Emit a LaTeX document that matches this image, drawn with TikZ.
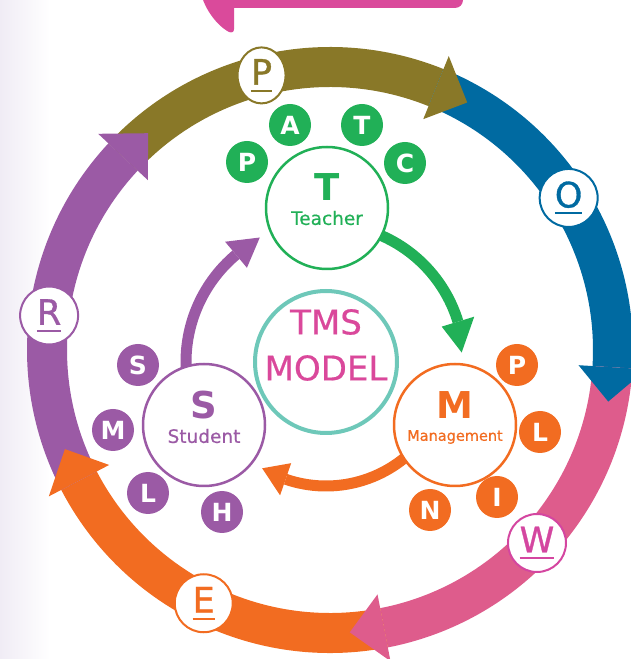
\documentclass[tikz,border=0pt]{standalone}
\usepackage{fontspec}
\setmainfont{DejaVu Sans}
\newfontfamily\medfont{DejaVu Sans}[FakeBold=0.9]
\newfontfamily\semfont{DejaVu Sans}[FakeBold=0.5]
\usetikzlibrary{calc,shapes.geometric}
\definecolor{colP}{RGB}{137,120,40}
\definecolor{colO}{RGB}{0,106,161}
\definecolor{colW}{RGB}{222,92,140}
\definecolor{colWt}{RGB}{212,70,160}
\definecolor{colE}{RGB}{242,108,33}
\definecolor{colR}{RGB}{155,90,165}
\definecolor{colG}{RGB}{33,176,87}
\definecolor{colT}{RGB}{110,200,185}
\definecolor{colTxt}{RGB}{218,72,155}
\definecolor{colBar}{RGB}{218,74,155}
\definecolor{colBg}{RGB}{240,236,245}
\newcommand\ulet[1]{\setbox0=\hbox{#1}\hbox{\rlap{\copy0}\rule[-7pt]{\wd0}{2pt}}}
\newcommand\ringband[3]{\fill[#1] ($(C)+(#2:303)$) arc[start angle=#2,end angle=#3,radius=303] -- ($(C)+(#3:263)$) arc[start angle=#3,end angle=#2,radius=263] -- cycle;}
\newcommand\ringhead[3]{\fill[#1] ($(C)+(#2:317)$) -- ($(C)+(#3:283)$) -- ($(C)+(#2:249)$) -- cycle;}
\begin{document}
\begin{tikzpicture}[x=1pt,y=1pt,
  ringlab/.style={circle, fill=white, draw=#1, line width=2pt, minimum size=58pt, inner sep=0pt, text=#1, font=\medfont\fontsize{35}{35}\selectfont},
  minidot/.style={circle, fill=#1, minimum size=42pt, inner sep=0pt, text=white, font=\bfseries\fontsize{25}{25}\selectfont},
  bigc/.style={circle, fill=white, draw=#1, line width=2.5pt, minimum size=122pt, inner sep=0pt},
  bigl/.style={text=#1, inner sep=0pt, font=\bfseries\fontsize{37}{37}\selectfont},
  bigw/.style={text=#1, inner sep=0pt, font=\semfont\fontsize{18.5}{18.5}\selectfont},
  inarrow/.style={draw=#1, line width=11pt}
]
\useasboundingbox (0,0) rectangle (630,659);
\shade[left color=colBg, right color=white] (0,0) rectangle (50,659);
% top pink bar
\fill[colBar] (200,670) .. controls (203,652) and (216,634) .. (229,627) .. controls (232,626) and (234,627) .. (234,630) -- (234,651) -- (455,651) arc[start angle=-90,end angle=0,radius=8] -- (463,670) -- cycle;
% ring
\coordinate (C) at (330,309);
\ringband{colP}{137}{68}
\ringband{colO}{68}{-3.5}
\ringband{colW}{-3.5}{-79}
\ringband{colE}{-79}{-152.5}
\ringband{colR}{-152.5}{-223}
\ringhead{colP}{68}{61}
\ringhead{colO}{-3.5}{-10.5}
\ringhead{colW}{-79}{-86}
\ringhead{colE}{-152.5}{-159.5}
\ringhead{colR}{-223}{-230}
\node[ringlab=colP, ellipse, minimum width=48pt, minimum height=56pt] (lp) at ($(C)+(104:283)$) {\ulet{P}};
\node[ringlab=colO] (lo) at ($(C)+(32.5:283)$) {\ulet{O}};
\node[ringlab=colWt] (lw) at ($(C)+(-43:283)$) {\ulet{W}};
\node[ringlab=colE] (le) at ($(C)+(-116.5:283)$) {\ulet{E}};
\node[ringlab=colR] (lr) at ($(C)+(173:283)$) {\ulet{R}};
% centre
\node[circle, draw=colT, line width=4pt, fill=white, minimum size=142pt, inner sep=0pt] (tms) at (326,297) {};
\node[text=colTxt, align=center, inner sep=0pt, font=\semfont\fontsize{34}{46}\selectfont] (tmst) at (326,314) {TMS\\MODEL};
% inner arrows
\draw[inarrow=colG] ($(tms.center)+(75:138)$) arc[start angle=75,end angle=17,radius=138];
\fill[colG] ($(tms.center)+(17:155)$) -- ($(tms.center)+(4:136)$) -- ($(tms.center)+(17:121)$) -- cycle;
\draw[inarrow=colE] ($(tms.center)+(-40:124)$) arc[start angle=-40,end angle=-109,radius=124];
\fill[colE] ($(tms.center)+(-109:141)$) -- ($(tms.center)+(-121:124)$) -- ($(tms.center)+(-109:107)$) -- cycle;
\draw[inarrow=colR] ($(tms.center)+(185:140)$) arc[start angle=185,end angle=130,radius=140];
\fill[colR] ($(tms.center)+(130:157)$) -- ($(tms.center)+(118:141)$) -- ($(tms.center)+(130:123)$) -- cycle;
% Teacher
\node[bigc=colG] (tc) at (327,451) {};
\node[bigl=colG] (tcl) at ($(tc.center)+(0,21)$) {T};
\node[bigw=colG] (tcw) at ($(tc.center)+(0,-10)$) {Teacher};
\node[minidot=colG] (g1) at (247,497) {P};
\node[minidot=colG] (g2) at (290,534) {A};
\node[minidot=colG] (g3) at (362,534) {T};
\node[minidot=colG] (g4) at (405,496) {C};
% Management
\node[bigc=colE] (mc) at (455,234) {};
\node[bigl=colE] (mcl) at ($(mc.center)+(0,20)$) {M};
\node[text=colE, inner sep=0pt, font=\semfont\fontsize{14.5}{14.5}\selectfont] (mcw) at ($(mc.center)+(0,-12)$) {Management};
\node[minidot=colE] (o1) at (517,294) {P};
\node[minidot=colE] (o2) at (540,227) {L};
\node[minidot=colE] (o3) at (497,162) {I};
\node[minidot=colE] (o4) at (430,149) {N};
% Student
\node[bigc=colR] (sc) at (204,234) {};
\node[bigl=colR] (scl) at ($(sc.center)+(0,20)$) {S};
\node[bigw=colR] (scw) at ($(sc.center)+(0,-11)$) {Student};
\node[minidot=colR] (p1) at (138,294) {S};
\node[minidot=colR] (p2) at (113,229) {M};
\node[minidot=colR] (p3) at (148,166) {L};
\node[minidot=colR] (p4) at (222,147) {H};
\end{tikzpicture}
\end{document}
